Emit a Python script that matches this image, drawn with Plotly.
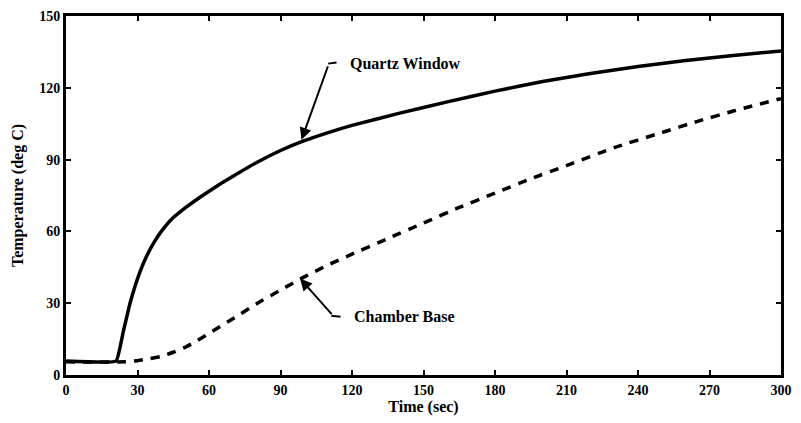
import plotly.graph_objects as go

# Quartz window temperature (deg C) vs time (sec)
quartz_t = [0, 21, 24, 27, 31, 34, 37, 40, 44, 50, 57, 65, 72, 80, 90, 100, 110,
            120, 140, 160, 180, 200, 220, 240, 260, 280, 300]
quartz_temp = [5.8, 5.8, 18, 30.5, 43, 50, 55.5, 60, 64.8, 69.8, 74.8, 80, 84.2,
               88.8, 93.8, 97.9, 101.3, 104.3, 109.4, 114.1, 118.6, 122.6, 126,
               128.9, 131.4, 133.5, 135.4]

# Chamber base temperature (deg C) vs time (sec)
base_t = [0, 25, 30, 35, 40, 45, 50, 55, 60, 70, 80, 90, 100, 110, 120, 135,
          150, 165, 180, 195, 210, 230, 250, 265, 280, 300]
base_temp = [5.5, 5.5, 6, 6.8, 7.8, 9.5, 11.6, 14.3, 17.4, 23.5, 29.8, 35.5, 41,
             46, 50.5, 57, 63.5, 70, 76, 82, 87.5, 95, 101.3, 106, 110.3, 115.5]

x_ticks = [0, 30, 60, 90, 120, 150, 180, 210, 240, 270, 300]
y_ticks = [0, 30, 60, 90, 120, 150]

FONT = "Liberation Serif"

fig = go.Figure()
fig.add_trace(go.Scatter(
    x=quartz_t, y=quartz_temp, mode="lines", name="Quartz Window",
    line=dict(color="black", width=3.5, shape="spline", smoothing=0.3),
))
fig.add_trace(go.Scatter(
    x=base_t, y=base_temp, mode="lines", name="Chamber Base",
    line=dict(color="black", width=3.5, dash="9px,8px", shape="spline", smoothing=0.5),
))

axis_common = dict(
    showline=True, linecolor="black", linewidth=3, mirror="ticks",
    ticks="inside", ticklen=5, tickwidth=1.5, tickcolor="black",
    showgrid=False, zeroline=False,
    tickfont=dict(family=FONT, size=14, color="black", weight="bold"),
)

title_font = dict(family=FONT, size=16, color="black", weight="bold")

fig.update_xaxes(
    range=[0, 300], tickvals=x_ticks, ticktext=[str(v) for v in x_ticks],
    title=dict(text="Time (sec)", font=title_font, standoff=4),
    **axis_common,
)
fig.update_yaxes(
    range=[0, 150], tickvals=y_ticks, ticktext=[str(v) for v in y_ticks],
    title=dict(text="Temperature (deg C)", font=title_font, standoff=12),
    **axis_common,
)

label_font = dict(family=FONT, size=16, color="black", weight="bold")

# Curve labels with pointer arrows (tail offsets in pixels from the tip)
fig.add_annotation(x=98.8, y=98.3, ax=27, ay=-75,
                   text="", showarrow=True, arrowhead=2, arrowsize=1.2,
                   arrowwidth=2, arrowcolor="black")
fig.add_annotation(x=118.5, y=130, text="Quartz Window", showarrow=False,
                   xanchor="left", yanchor="middle", font=label_font)
fig.add_annotation(x=98.2, y=40.3, ax=33, ay=37,
                   text="", showarrow=True, arrowhead=2, arrowsize=1.2,
                   arrowwidth=2, arrowcolor="black")
fig.add_annotation(x=120, y=24.5, text="Chamber Base", showarrow=False,
                   xanchor="left", yanchor="middle", font=label_font)

# Short hooks joining the arrows to their labels
fig.add_shape(type="line", x0=110.0, y0=130.1, x1=113.5, y1=130.6,
              line=dict(color="black", width=2))
fig.add_shape(type="line", x0=111.3, y0=24.8, x1=115.2, y1=24.3,
              line=dict(color="black", width=2))

fig.update_layout(
    width=801, height=423,
    margin=dict(l=66, r=9, t=15, b=48),
    paper_bgcolor="white", plot_bgcolor="white",
    showlegend=False,
    font=dict(family=FONT, color="black"),
)

fig.write_html("out.html")
